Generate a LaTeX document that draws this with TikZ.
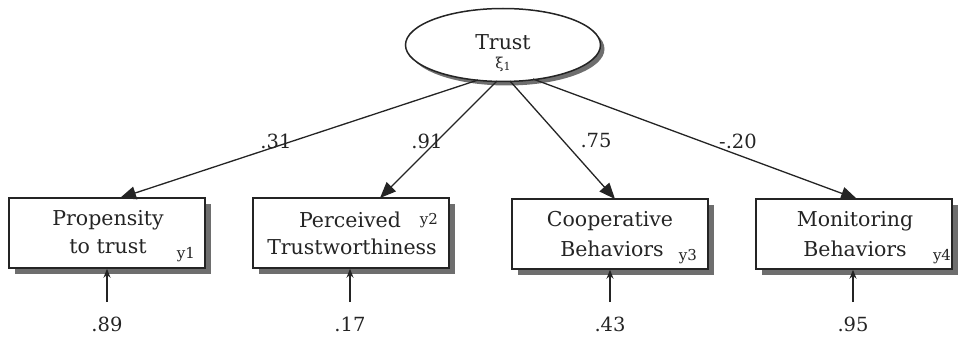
\documentclass[tikz,border=0pt]{standalone}
\usepackage{fontspec}
\setmainfont{DejaVu Serif}
\usetikzlibrary{shapes.geometric,arrows.meta}
\definecolor{ink}{HTML}{242424}
\definecolor{shade}{HTML}{6E6E6E}
\tikzset{
  box/.style={draw=ink, line width=1.5pt, fill=white, minimum width=196pt, minimum height=70pt, inner sep=0pt},
  boxshadow/.style={fill=shade, minimum width=196pt, minimum height=70pt, inner sep=0pt},
  lbl/.style={text=ink, font=\fontsize{20.5}{23}\selectfont, inner sep=0pt},
  small/.style={text=ink, font=\fontsize{15}{17}\selectfont, inner sep=0pt},
  coef/.style={text=ink, font=\fontsize{19.5}{21}\selectfont, inner sep=0pt},
  path/.style={draw=ink, line width=1.3pt, -{Triangle[length=16pt,width=13pt]}},
  err/.style={draw=ink, line width=1.2pt, -{Stealth[length=9pt,width=7pt]}}
}
\begin{document}
\begin{tikzpicture}[x=1pt,y=-1pt]
\useasboundingbox (0,0) rectangle (959,337);
% latent
\node[ellipse, fill=shade, minimum width=195pt, minimum height=73pt, inner sep=0pt] (trustsh) at (507,49) {};
\node[ellipse, draw=ink, line width=1.5pt, fill=white, minimum width=195pt, minimum height=73pt, inner sep=0pt] (trust) at (503,45) {};
\node[lbl] (trusttxt) at (503,42) {Trust};
\node[small] (xi) at (503,64) {ξ\raisebox{-2pt}{\fontsize{11}{12}\selectfont 1}};
% boxes
\node[boxshadow] (s1) at (113,239) {};
\node[box] (b1) at (107,233) {};
\node[boxshadow] (s2) at (357,239) {};
\node[box] (b2) at (351,233) {};
\node[boxshadow] (s3) at (616,240) {};
\node[box] (b3) at (610,234) {};
\node[boxshadow] (s4) at (860,240) {};
\node[box] (b4) at (854,234) {};
% box texts
\node[lbl] (t1a) at (108,220) {Propensity};
\node[lbl] (t1b) at (108,247) {to trust};
\node[small] (y1) at (186,255) {y1};
\node[lbl] (t2a) at (350,220) {Perceived};
\node[lbl] (t2b) at (352,247) {Trustworthiness};
\node[small] (y2) at (429,221) {y2};
\node[lbl] (t3a) at (610,221) {Cooperative};
\node[lbl] (t3b) at (612,249) {Behaviors};
\node[small] (y3) at (688,257) {y3};
\node[lbl] (t4a) at (855,221) {Monitoring};
\node[lbl] (t4b) at (855,249) {Behaviors};
\node[small] (y4) at (942,257) {y4};
% path endpoints
\coordinate (o1) at (478,80);
\coordinate (o2) at (497,81);
\coordinate (o3) at (510,81);
\coordinate (o4) at (533,79);
\coordinate (e1) at (120,198);
\coordinate (e2) at (380,198);
\coordinate (e3) at (615,199);
\coordinate (e4) at (857,199);
\draw[path] (o1) -- (e1);
\draw[path] (o2) -- (e2);
\draw[path] (o3) -- (e3);
\draw[path] (o4) -- (e4);
% coefficients
\node[coef] (c1) at (276,141) {.31};
\node[coef] (c2) at (427,141) {.91};
\node[coef] (c3) at (596,141) {.75};
\node[coef] (c4) at (738,141) {-.20};
% errors
\node[coef] (r1) at (107,324) {.89};
\node[coef] (r2) at (350,324) {.17};
\node[coef] (r3) at (610,324) {.43};
\node[coef] (r4) at (853,324) {.95};
\coordinate (u1) at (107,302);
\coordinate (u2) at (350,302);
\coordinate (u3) at (610,302);
\coordinate (u4) at (853,302);
\draw[err] (u1) -- (b1.south -| u1);
\draw[err] (u2) -- (b2.south -| u2);
\draw[err] (u3) -- (b3.south -| u3);
\draw[err] (u4) -- (b4.south -| u4);
\end{tikzpicture}
\end{document}
